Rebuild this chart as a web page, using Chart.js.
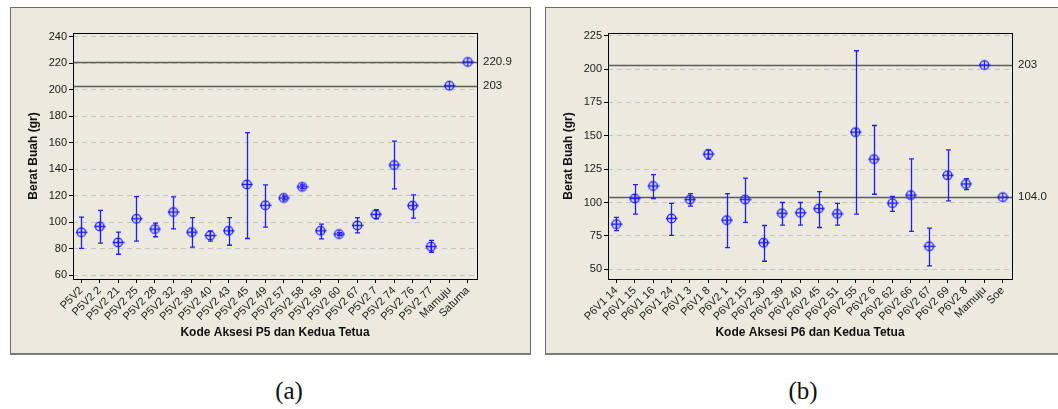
<!DOCTYPE html>
<html>
<head>
<meta charset="utf-8">
<script src="https://cdn.jsdelivr.net/npm/chart.js@4/dist/chart.umd.min.js"></script>
<style>
  body { margin: 0; width: 1058px; height: 409px; background: #fff; overflow: hidden; position: relative; }
  .panel { position: absolute; top: 7px; height: 345px; background: #ece9df;
           border: 1px solid #6a6a6a; border-bottom: 2px solid #7a7a7a; }
  .panel canvas { position: absolute; left: 0; top: 0; }
  .cap { position: absolute; top: 377px; width: 60px; margin-left: -30px; text-align: center;
         font: 25px "Liberation Serif", serif; color: #111; }
</style>
</head>
<body>
<div class="panel" style="left:10px; width:519px;"><canvas id="chartA" width="519" height="345"></canvas></div>
<div class="panel" style="left:545px; width:520px; border-right:none;"><canvas id="chartB" width="520" height="345"></canvas></div>
<div class="cap" style="left:289px;">(a)</div>
<div class="cap" style="left:803px;">(b)</div>

<script>
// --- panel (a): P5 accessions and both parents
const catsA = ["P5V2", "P5V2 2", "P5V2 21", "P5V2 25", "P5V2 28", "P5V2 32", "P5V2 39", "P5V2 40",
  "P5V2 43", "P5V2 45", "P5V2 49", "P5V2 57", "P5V2 58", "P5V2 59", "P5V2 60", "P5V2 67",
  "P5V2 7", "P5V2 74", "P5V2 76", "P5V2 77", "Mamuju", "Satuma"];
const meanA  = [92.3, 96.7, 84.6, 102.5, 94.7, 107.6, 92.4, 89.9, 93.4, 128.4, 112.7, 118.2, 126.6,
  93.4, 90.9, 97.5, 105.8, 143.1, 112.4, 81.5, 203, 220.9];
const upperA = [103.7, 108.9, 92.4, 119.2, 99.2, 119.0, 103.3, 93.4, 103.3, 167.5, 128.1, 119.6, 128.0,
  98.5, 92.0, 103.3, 109.4, 161.2, 120.5, 86.1, null, null];
const lowerA = [80.2, 84.1, 75.7, 85.6, 88.9, 94.9, 81.0, 85.6, 82.5, 87.6, 96.2, 116.8, 125.2,
  87.3, 89.8, 91.9, 102.5, 125.0, 103.0, 77.2, null, null];
const refA = [220.9, 203];
const refLabelA = ["220.9", "203"];
const yTicksA = [60, 80, 100, 120, 140, 160, 180, 200, 220, 240];

// --- panel (b): P6 accessions and both parents
const catsB = ["P6V1 14", "P6V1 15", "P6V1 16", "P6V1 24", "P6V1 3", "P6V1 8", "P6V2 1", "P6V2 15",
  "P6V2 30", "P6V2 39", "P6V2 40", "P6V2 45", "P6V2 51", "P6V2 55", "P6V2 6", "P6V2 62",
  "P6V2 66", "P6V2 67", "P6V2 69", "P6V2 8", "Mamuju", "Soe"];
const meanB  = [83.8, 103.0, 112.4, 88.1, 102.2, 136.3, 86.8, 102.2, 69.9, 92.0, 92.3, 95.5, 91.5,
  152.7, 132.5, 99.5, 105.5, 67.2, 120.4, 113.9, 203, 104.0];
const upperB = [88.8, 113.4, 120.9, 99.3, 106.7, 139.5, 106.7, 118.2, 82.8, 100.0, 100.0, 108.2, 99.3,
  213.7, 157.7, 104.5, 132.7, 80.8, 139.5, 117.9, null, null];
const lowerB = [78.9, 91.3, 103.0, 75.4, 97.3, 132.5, 66.2, 85.1, 56.0, 83.1, 83.1, 81.3, 83.1,
  91.3, 106.2, 93.3, 78.4, 52.5, 101.2, 109.7, null, null];
const refB = [203, 104.0];
const refLabelB = ["203", "104.0"];
const yTicksB = [50, 75, 100, 125, 150, 175, 200, 225];

const BLUE = "#1e1eff";
const FONT = "'Liberation Sans', Arial, sans-serif";

// circle-with-cross symbol used for the means
const marker = document.createElement("canvas");
marker.width = 13; marker.height = 13;
(function () {
  const c = marker.getContext("2d");
  c.strokeStyle = BLUE;
  c.lineWidth = 1.3;
  c.beginPath();
  c.arc(6.5, 6.5, 4.3, 0, Math.PI * 2);
  c.moveTo(1, 6.5); c.lineTo(12.5, 6.5);
  c.moveTo(6.5, 1.5); c.lineTo(6.5, 11.5);
  c.stroke();
})();

// error bars + horizontal reference lines for the parents
const intervalPlugin = {
  id: "intervals",
  beforeDatasetsDraw(chart, args, opts) {
    const { ctx, chartArea: a, scales: { x, y } } = chart;
    ctx.save();
    ctx.beginPath();
    ctx.rect(a.left, a.top, a.right - a.left, a.bottom - a.top);
    ctx.clip();
    // reference lines
    ctx.strokeStyle = "#5c5c5c";
    ctx.lineWidth = 1.6;
    opts.refs.forEach(v => {
      const py = Math.round(y.getPixelForValue(v)) + 0.5;
      ctx.beginPath(); ctx.moveTo(a.left, py); ctx.lineTo(a.right, py); ctx.stroke();
    });
    // intervals
    ctx.strokeStyle = BLUE;
    ctx.lineWidth = 1.3;
    opts.upper.forEach((hi, i) => {
      const lo = opts.lower[i];
      if (hi == null || lo == null) return;
      const px = Math.round(x.getPixelForValue(i)) + 0.5;
      const pt = y.getPixelForValue(hi), pb = y.getPixelForValue(lo);
      ctx.beginPath();
      ctx.moveTo(px, pt); ctx.lineTo(px, pb);
      ctx.moveTo(px - 2.5, pt); ctx.lineTo(px + 2.5, pt);
      ctx.moveTo(px - 2.5, pb); ctx.lineTo(px + 2.5, pb);
      ctx.stroke();
    });
    ctx.restore();
  },
  afterDraw(chart, args, opts) {
    const { ctx, chartArea: a, scales: { y } } = chart;
    ctx.save();
    // plot frame
    ctx.strokeStyle = "#000";
    ctx.lineWidth = 1;
    ctx.strokeRect(Math.round(a.left) + 0.5, Math.round(a.top) + 0.5,
      Math.round(a.right - a.left), Math.round(a.bottom - a.top));
    // values of the reference lines
    ctx.fillStyle = "#222";
    ctx.font = "11.5px " + FONT;
    ctx.textBaseline = "middle";
    opts.refs.forEach((v, i) => {
      ctx.fillText(opts.refLabels[i], a.right + 6, y.getPixelForValue(v));
    });
    ctx.restore();
  }
};

function makePanel(id, cats, mean, upper, lower, refs, refLabels, yTicks, yMin, yMax, xTitle, rightPad) {
  return new Chart(document.getElementById(id), {
    type: "scatter",
    data: {
      datasets: [{
        data: mean.map((v, i) => ({ x: i, y: v })),
        pointStyle: marker,
        pointRadius: 6,
        pointHoverRadius: 6
      }]
    },
    plugins: [intervalPlugin],
    options: {
      responsive: false,
      animation: false,
      events: [],
      layout: { padding: { top: 25, right: rightPad, bottom: 0, left: 0 } },
      plugins: {
        legend: { display: false },
        tooltip: { enabled: false },
        intervals: { upper, lower, refs, refLabels }
      },
      scales: {
        x: {
          type: "linear",
          min: -0.45,
          max: cats.length - 0.5,
          afterBuildTicks: s => { s.ticks = cats.map((c, i) => ({ value: i })); },
          afterFit: s => { s.height = 74; },
          ticks: {
            autoSkip: false,
            minRotation: 45,
            maxRotation: 45,
            padding: 1,
            color: "#1a1a1a",
            font: { family: FONT, size: 11 },
            callback: (v, i) => cats[i]
          },
          grid: { drawOnChartArea: false, drawTicks: true, tickLength: 4, tickColor: "#000" },
          border: { display: false },
          title: {
            display: true,
            text: xTitle,
            color: "#111",
            font: { family: FONT, size: 12, weight: "bold" },
            padding: { top: 0, bottom: 13 }
          }
        },
        y: {
          min: yMin,
          max: yMax,
          afterBuildTicks: s => { s.ticks = yTicks.map(v => ({ value: v })); },
          afterFit: s => { s.width = 62; },
          ticks: { color: "#1a1a1a", font: { family: FONT, size: 11 }, padding: 2 },
          grid: { color: "#c4c4c4", lineWidth: 1, tickLength: 4, tickColor: "#000", tickBorderDash: [] },
          border: { display: false, dash: [5, 4] },
          title: {
            display: true,
            text: "Berat Buah (gr)",
            color: "#111",
            font: { family: FONT, size: 12, weight: "bold" },
            padding: { top: 15, bottom: 0 }
          }
        }
      }
    }
  });
}

makePanel("chartA", catsA, meanA, upperA, lowerA, refA, refLabelA, yTicksA, 57, 242.8,
  "Kode Aksesi P5 dan Kedua Tetua", 53);
makePanel("chartB", catsB, meanB, upperB, lowerB, refB, refLabelB, yTicksB, 42.7, 227,
  "Kode Aksesi P6 dan Kedua Tetua", 54);
</script>
</body>
</html>
